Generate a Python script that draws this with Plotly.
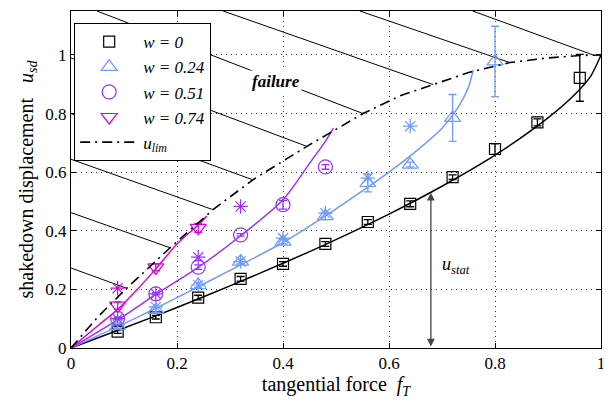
import plotly.graph_objects as go

# ---------------- data ----------------
# w = 0 (black squares)
x_w0 = [0.088, 0.16, 0.24, 0.32, 0.40, 0.48, 0.56, 0.64, 0.72, 0.80, 0.88, 0.96]
y_w0 = [0.056, 0.105, 0.172, 0.236, 0.287, 0.355, 0.430, 0.492, 0.583, 0.679, 0.770, 0.922]
e_w0 = [0.006, 0.006, 0.008, 0.008, 0.008, 0.008, 0.008, 0.010, 0.008, 0.018, 0.012, 0.080]

# w = 0.24 (blue triangles)
x_w24 = [0.088, 0.16, 0.24, 0.32, 0.40, 0.48, 0.56, 0.64, 0.72, 0.80]
y_w24 = [0.075, 0.130, 0.215, 0.295, 0.363, 0.450, 0.563, 0.626, 0.785, 0.978]
e_w24 = [0.008, 0.008, 0.008, 0.008, 0.008, 0.012, 0.030, 0.008, 0.080, 0.120]
xs_w24 = [0.088, 0.16, 0.24, 0.32, 0.40, 0.48, 0.56, 0.64]
ys_w24 = [0.080, 0.140, 0.215, 0.295, 0.375, 0.460, 0.580, 0.757]

# w = 0.51 (purple circles)
x_w51 = [0.088, 0.16, 0.24, 0.32, 0.40, 0.48]
y_w51 = [0.101, 0.185, 0.276, 0.386, 0.489, 0.618]
e_w51 = [0.004, 0.004, 0.008, 0.004, 0.015, 0.008]
xs_w51 = [0.088, 0.16, 0.24, 0.32]
ys_w51 = [0.100, 0.185, 0.310, 0.483]

# w = 0.74 (magenta down-triangles)
x_w74 = [0.088, 0.16, 0.24]
y_w74 = [0.145, 0.275, 0.410]
e_w74 = [0.012, 0.012, 0.015]
xs_w74 = [0.088]
ys_w74 = [0.204]

# fitted curves
cx_w0 = [0, 0.1, 0.2, 0.3, 0.4, 0.5, 0.6, 0.7, 0.8, 0.9, 0.95, 0.98, 1.0]
cy_w0 = [0, 0.068, 0.138, 0.212, 0.289, 0.370, 0.457, 0.552, 0.658, 0.785, 0.864, 0.926, 1.0]
cx_w24 = [0, 0.1, 0.2, 0.3, 0.4, 0.5, 0.6, 0.65, 0.7, 0.73, 0.75, 0.759]
cy_w24 = [0, 0.083, 0.172, 0.265, 0.360, 0.475, 0.600, 0.670, 0.750, 0.820, 0.890, 0.950]
cx_w51 = [0, 0.1, 0.16, 0.24, 0.32, 0.40, 0.45, 0.48, 0.495]
cy_w51 = [0, 0.110, 0.183, 0.275, 0.383, 0.506, 0.630, 0.705, 0.750]
cx_w74 = [0, 0.05, 0.09, 0.12, 0.16, 0.20, 0.24, 0.256]
cy_w74 = [0, 0.075, 0.135, 0.190, 0.270, 0.355, 0.420, 0.450]

# limit curve u_lim
x_lim = [0, 0.05, 0.105, 0.187, 0.268, 0.343, 0.445, 0.551, 0.620, 0.683, 0.750, 0.828, 0.900, 0.960, 1.0]
y_lim = [0, 0.105, 0.204, 0.342, 0.472, 0.574, 0.688, 0.800, 0.860, 0.899, 0.940, 0.974, 0.990, 0.998, 1.0]

# hatch lines of the failure region (start -> end on u_lim)
hx0 = [0, 0, 0, 0, 0, 0.049, 0.287, 0.545, 0.758]
hy0 = [0.273, 0.462, 0.644, 0.800, 0.990, 1.15, 1.15, 1.15, 1.15]
hx1 = [0.105, 0.187, 0.268, 0.343, 0.445, 0.551, 0.683, 0.828, 0.985]
hy1 = [0.204, 0.342, 0.472, 0.574, 0.688, 0.800, 0.899, 0.974, 1.000]

u_stat_x = 0.679
u_stat_top = 0.530

x_ticks = [0, 0.2, 0.4, 0.6, 0.8, 1]
y_ticks = [0, 0.2, 0.4, 0.6, 0.8, 1]

# ---------------- styles ----------------
BLACK = "#000000"
BLUE = "#6E9BFF"
PURPLE = "#9933FF"
MAGENTA = "#DD00E6"
FONT = "Liberation Serif, Times New Roman, serif"

fig = go.Figure()

# hatch lines
hx, hy = [], []
for a, b, c, d in zip(hx0, hy0, hx1, hy1):
    hx += [a, c, None]
    hy += [b, d, None]
fig.add_trace(go.Scatter(x=hx, y=hy, mode="lines", line=dict(color=BLACK, width=1),
                         showlegend=False, hoverinfo="skip"))

# fitted curves
for cx, cy, col in [(cx_w0, cy_w0, BLACK), (cx_w24, cy_w24, BLUE),
                    (cx_w51, cy_w51, PURPLE), (cx_w74, cy_w74, MAGENTA)]:
    fig.add_trace(go.Scatter(x=cx, y=cy, mode="lines",
                             line=dict(color=col, width=1.5, shape="spline", smoothing=0.8),
                             showlegend=False, hoverinfo="skip"))

# asterisks
for xs, ys, col in [(xs_w24, ys_w24, BLUE), (xs_w51, ys_w51, PURPLE), (xs_w74, ys_w74, MAGENTA)]:
    fig.add_trace(go.Scatter(x=xs, y=ys, mode="markers",
                             marker=dict(symbol="asterisk-open", size=12, color=col,
                                         line=dict(color=col, width=1.2)),
                             showlegend=False))

# data with error bars (legend entries)
series = [
    (x_w0, y_w0, e_w0, BLACK, "square-open", 11, "<i>w = 0</i>"),
    (x_w24, y_w24, e_w24, BLUE, "triangle-up-open", 14, "<i>w = 0.24</i>"),
    (x_w51, y_w51, e_w51, PURPLE, "circle-open", 14, "<i>w = 0.51</i>"),
    (x_w74, y_w74, e_w74, MAGENTA, "triangle-down-open", 14, "<i>w = 0.74</i>"),
]
for xs, ys, es, col, sym, sz, name in series:
    fig.add_trace(go.Scatter(
        x=xs, y=ys, mode="markers", name=name,
        marker=dict(symbol=sym, size=sz, color=col, line=dict(color=col, width=1.2)),
        error_y=dict(type="data", array=es, visible=True, color=col, thickness=1.3, width=4),
    ))

# u_lim
fig.add_trace(go.Scatter(x=x_lim, y=y_lim, mode="lines", name="<i>u</i><sub><i>lim</i></sub>",
                         line=dict(color=BLACK, width=1.6, dash="10px,5px,2px,5px")))

# annotations
fig.add_annotation(x=0.387, y=0.909, xref="x", yref="y", text="<b><i>failure</i></b>",
                   showarrow=False, bgcolor="white", font=dict(family=FONT, size=17, color=BLACK))
fig.add_annotation(x=u_stat_x, y=u_stat_top, ax=u_stat_x, ay=0, xref="x", yref="y",
                   axref="x", ayref="y", text="", showarrow=True, arrowhead=2, arrowside="end+start",
                   arrowsize=1.2, arrowwidth=1.3, arrowcolor="#444444", standoff=0, startstandoff=0)
fig.add_annotation(x=0.727, y=0.28, xref="x", yref="y",
                   text="<i>u</i><sub><i>stat</i></sub>", showarrow=False,
                   font=dict(family=FONT, size=18, color=BLACK))

axis_common = dict(
    showline=True, linecolor=BLACK, linewidth=1, mirror="ticks",
    ticks="inside", ticklen=5, tickcolor=BLACK,
    showgrid=True, gridcolor="#333333", gridwidth=1, griddash="1px,4px",
    zeroline=False, automargin=False,
    tickfont=dict(family=FONT, size=17, color=BLACK),
)

fig.update_xaxes(range=[0, 1], tickvals=x_ticks, ticktext=[f"{v:g}" for v in x_ticks],
                 title=dict(text="tangential force  <i>f</i><sub><i>T</i></sub>",
                            font=dict(family=FONT, size=20, color=BLACK), standoff=4),
                 **axis_common)
fig.update_yaxes(range=[0, 1.15], tickvals=y_ticks, ticktext=[f"{v:g}" for v in y_ticks],
                 title=dict(text="shakedown displacement   <i>u</i><sub><i>sd</i></sub>",
                            font=dict(family=FONT, size=20, color=BLACK), standoff=6),
                 **axis_common)

# the page body keeps an 8px margin, so the figure is laid out 8px smaller
fig.update_layout(
    width=603, height=400,
    margin=dict(l=63, r=10, t=3, b=60, autoexpand=False),
    paper_bgcolor="white", plot_bgcolor="white",
    font=dict(family=FONT, size=16, color=BLACK),
    legend=dict(x=0.006, y=0.964, xanchor="left", yanchor="top",
                bgcolor="white", bordercolor=BLACK, borderwidth=1,
                font=dict(family=FONT, size=17, color=BLACK),
                itemwidth=58, tracegroupgap=0),
)

fig.write_html("out.html")
